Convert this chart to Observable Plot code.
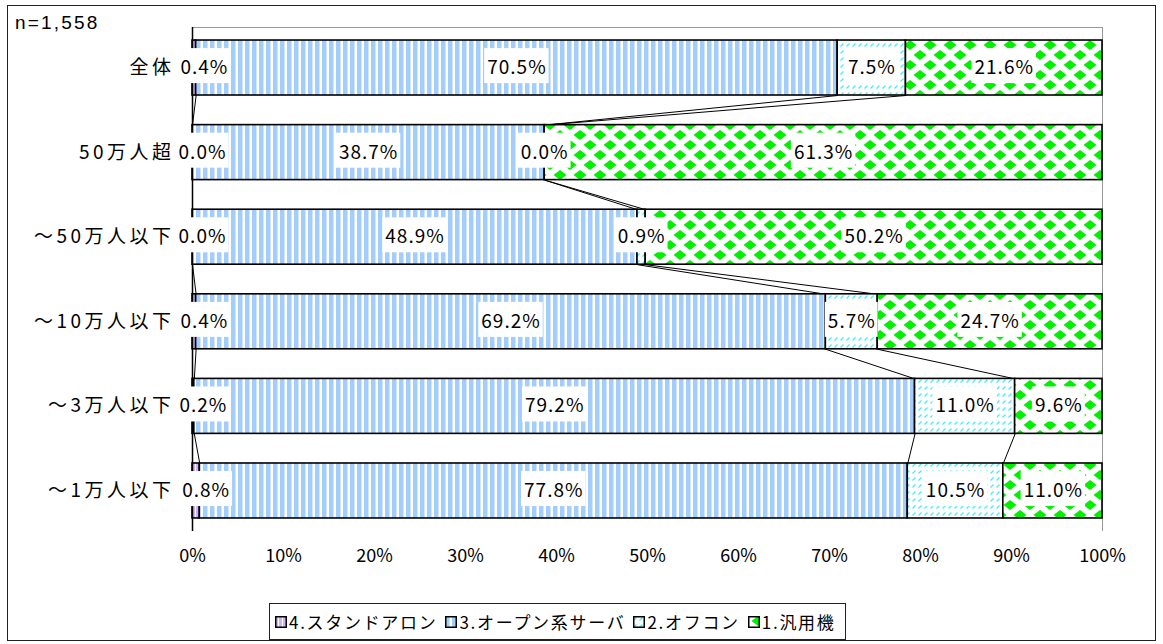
<!DOCTYPE html>
<html><head><meta charset="utf-8">
<script src="https://cdn.jsdelivr.net/npm/d3@7"></script>
<script src="https://cdn.jsdelivr.net/npm/@observablehq/plot@0.6"></script>
<style>
body{margin:0;background:#fff;}
#wrap{position:relative;width:1163px;height:644px;font-family:'Noto Sans CJK JP',sans-serif;color:#000;}
#frame{position:absolute;left:7px;top:5px;width:1149px;height:636px;border:1px solid #222;box-sizing:border-box;pointer-events:none;}
#n{position:absolute;left:15px;top:12px;font-family:'Liberation Sans',Arial,sans-serif;font-size:19px;letter-spacing:2.2px;}
#chart{position:absolute;left:0;top:0;}
#legend{position:absolute;left:269px;top:603px;height:37px;width:577px;border:1px solid #222;box-sizing:border-box;display:flex;align-items:center;padding-left:5px;font-size:17px;letter-spacing:1.7px;white-space:nowrap;}
#legend .item{display:flex;align-items:center;margin-right:8px;}
#legend svg{margin-right:2px;}
svg [aria-label^="y-axis"] text{letter-spacing:3.5px;font-size:19px;}
svg .seglabel text{letter-spacing:1px;font-size:19px;}
</style>
</head><body>
<div id="wrap">
  <div id="chart"></div>
  <div id="n"></div>
  <div id="legend"></div>
  <div id="frame"></div>
</div>
<script>
// ---- data ----
const sampleSize = "n=1,558";
const categories = ["全体","50万人超","～50万人以下","～10万人以下","～3万人以下","～1万人以下"];
const seriesNames = ["4.スタンドアロン","3.オープン系サーバ","2.オフコン","1.汎用機"];
const standalone     = [0.4, 0.0, 0.0, 0.4, 0.2, 0.8];
const openServer     = [70.5, 38.7, 48.9, 69.2, 79.2, 77.8];
const officeComputer = [7.5, 0.0, 0.9, 5.7, 11.0, 10.5];
const mainframe      = [21.6, 61.3, 50.2, 24.7, 9.6, 11.0];
const xTicks = [0,10,20,30,40,50,60,70,80,90,100];

// ---- build tables ----
const seriesValues = [standalone, openServer, officeComputer, mainframe];
const segs = [];
const cum = categories.map(() => [0]);
categories.forEach((c, i) => {
  let acc = 0;
  seriesValues.forEach((vals, s) => {
    const v = vals[i];
    segs.push({cat: c, i, s, v, start: acc, end: acc + v});
    acc += v;
    cum[i].push(acc);
  });
});
// series lines between adjacent bars
const half = 0.325, outer = 0.154;
const links = [];
for (let i = 0; i < categories.length - 1; i++) {
  for (let k = 1; k <= 3; k++) {
    links.push({x1: cum[i][k], y1: i + half, x2: cum[i + 1][k], y2: i + 1 - half});
  }
}
const fmt = v => v.toFixed(1) + "%";
const n = categories.length;

const chart = Plot.plot({
  width: 1163, height: 600,
  marginLeft: 192, marginRight: 61, marginTop: 27, marginBottom: 69,
  style: {fontFamily: "'Noto Sans CJK JP', sans-serif", fontSize: "18px", color: "#000", background: "transparent"},
  x: {domain: [0, 100], clamp: true, ticks: xTicks, tickFormat: d => d + "%", tickSize: 0, tickPadding: 18, label: null},
  y: {domain: [n - 1 + half + outer, -half - outer], ticks: d3.range(n), tickFormat: i => categories[i], tickSize: 0, tickPadding: 18, label: null},
  marks: [
    Plot.ruleY([-half - outer], {stroke: "#999", strokeWidth: 1}),
    Plot.ruleX([100], {stroke: "#999", strokeWidth: 1}),
    Plot.link(links, {x1: "x1", y1: "y1", x2: "x2", y2: "y2", stroke: "#000", strokeWidth: 1}),
    ...[0,1,2,3].map(s => Plot.rect(segs.filter(d => d.s === s), {
      x1: "start", x2: "end", y1: d => d.i - half, y2: d => d.i + half,
      fill: `url(#pat${s})`, stroke: "#000", strokeWidth: 1.6
    })),
    Plot.ruleX([0], {stroke: "#000", strokeWidth: 1.5}),
    Plot.text(segs.filter(d => d.s > 0), {x: d => (d.start + d.end) / 2, y: "i", text: d => fmt(d.v), className: "seglabel", fill: "#000"}),
    Plot.text(segs.filter(d => d.s === 0), {x: d => (d.start + d.end) / 2, y: "i", text: d => fmt(d.v), dx: 10, className: "seglabel", fill: "#000"})
  ]
});
document.getElementById("chart").appendChild(chart);

// patterns
const svg = d3.select(chart);
const defs = svg.insert("defs", ":first-child");
// 4. stand-alone: lavender
const p0 = defs.append("pattern").attr("id", "pat0").attr("patternUnits", "userSpaceOnUse").attr("width", 4).attr("height", 4);
p0.append("rect").attr("width", 4).attr("height", 4).attr("fill", "#fff");
p0.append("rect").attr("width", 3).attr("height", 4).attr("fill", "#cfb2f5");
// 3. open server: light blue vertical stripes
const p1 = defs.append("pattern").attr("id", "pat1").attr("patternUnits", "userSpaceOnUse").attr("width", 7).attr("height", 7);
p1.append("rect").attr("width", 7).attr("height", 7).attr("fill", "#fff");
p1.append("rect").attr("width", 4.5).attr("height", 7).attr("fill", "#a3cdfa");
// 2. office computer: cyan dashed diagonals
const p2 = defs.append("pattern").attr("id", "pat2").attr("patternUnits", "userSpaceOnUse").attr("width", 6).attr("height", 7);
p2.append("rect").attr("width", 6).attr("height", 7).attr("fill", "#fff");
p2.append("line").attr("x1", 0.5).attr("y1", 4.5).attr("x2", 3.5).attr("y2", 1.5).attr("stroke", "#40eef8").attr("stroke-width", 1.3);
// 1. mainframe: green diamonds
const p3 = defs.append("pattern").attr("id", "pat3").attr("patternUnits", "userSpaceOnUse").attr("width", 20).attr("height", 20);
p3.append("rect").attr("width", 20).attr("height", 20).attr("fill", "#fff");
const dia = (cx, cy) => `M${cx-6.5},${cy}L${cx},${cy-5}L${cx+6.5},${cy}L${cx},${cy+5}Z`;
p3.append("path").attr("d", dia(10, 5) + dia(0, 15) + dia(20, 15)).attr("fill", "#00f000");

// white boxes behind data labels
svg.selectAll(".seglabel text").each(function() {
  const b = this.getBBox();
  const r = document.createElementNS("http://www.w3.org/2000/svg", "rect");
  r.setAttribute("x", b.x - 3);
  r.setAttribute("y", b.y - 4);
  r.setAttribute("width", b.width + 5);
  r.setAttribute("height", b.height + 8);
  r.setAttribute("fill", "#fff");
  const t = this.getAttribute("transform");
  if (t) r.setAttribute("transform", t);
  this.parentNode.insertBefore(r, this);
});

// title & legend
document.getElementById("n").textContent = sampleSize;
const legend = document.getElementById("legend");
seriesNames.forEach((name, s) => {
  const item = document.createElement("div");
  item.className = "item";
  item.innerHTML = `<svg width="12" height="12"><rect x="0.75" y="0.75" width="10.5" height="10.5" fill="url(#pat${s})" stroke="#000" stroke-width="1.5"/></svg><span>${name}</span>`;
  legend.appendChild(item);
});
</script>
</body></html>
